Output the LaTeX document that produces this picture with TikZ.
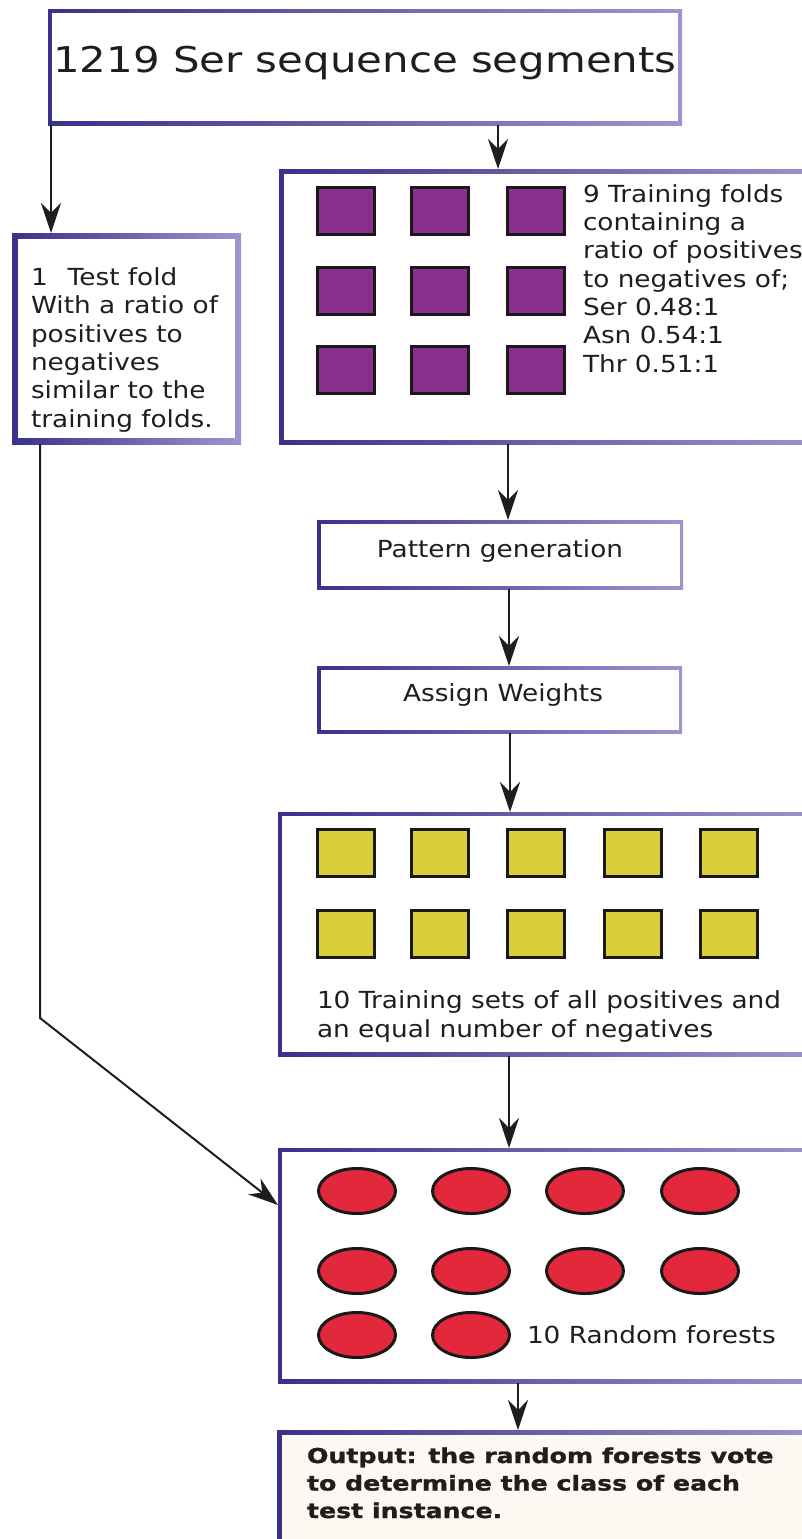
\documentclass[tikz,border=0pt]{standalone}
\usepackage{fontspec}
\setmainfont{DejaVu Sans}
\newfontfamily\dvw[FakeStretch=1.12]{DejaVu Sans}
\newfontfamily\dvt[FakeStretch=1.18]{DejaVu Sans}
\newfontfamily\dvb[FakeStretch=1.23,FakeBold=1.2]{DejaVu Sans Bold}
\usetikzlibrary{arrows.meta,shapes.geometric}
\definecolor{bdark}{RGB}{58,50,138}
\definecolor{blight}{RGB}{158,148,206}
\definecolor{cream}{RGB}{253,248,242}
\definecolor{purp}{RGB}{138,47,140}
\definecolor{yel}{RGB}{217,206,58}
\definecolor{redf}{RGB}{226,40,58}
\definecolor{ink}{RGB}{30,30,30}
\tikzset{
  gbox/.style={rectangle, inner sep=0pt, outer sep=0pt, left color=bdark, right color=blight,
    path picture={\fill[white] ([xshift=#1,yshift=-#1]path picture bounding box.north west) rectangle ([xshift=-#1,yshift=#1]path picture bounding box.south east);}},
  gboxc/.style={rectangle, inner sep=0pt, outer sep=0pt, left color=bdark, right color=blight,
    path picture={\fill[cream] ([xshift=#1,yshift=-#1]path picture bounding box.north west) rectangle ([xshift=-#1,yshift=#1]path picture bounding box.south east);}},
  txt/.style={inner sep=0pt, outer sep=0pt, text=ink, font=\dvw\fontsize{23.5}{28.3}\selectfont, align=left},
  psq/.style={rectangle, draw=black!90, line width=3pt, fill=purp, minimum width=57pt, minimum height=47pt, inner sep=0pt},
  ysq/.style={rectangle, draw=black!90, line width=3pt, fill=yel, minimum width=57pt, minimum height=47pt, inner sep=0pt},
  rel/.style={ellipse, draw=black!90, line width=3pt, fill=redf, minimum width=77pt, minimum height=45pt, inner sep=0pt},
  arr/.style={draw=ink, line width=2pt, -{Stealth[length=30pt,width=20pt,inset=10pt]}}
}
\begin{document}
\begin{tikzpicture}[x=1pt,y=-1pt]
\useasboundingbox (0,0) rectangle (802,1539);
\fill[white] (0,0) rectangle (802,1539);
\clip (0,0) rectangle (802,1539);

% boxes
\node[gbox=4pt, minimum width=634pt, minimum height=116pt] (top) at (365,67) {};
\node[gbox=6pt, minimum width=229pt, minimum height=211pt] (test) at (126.5,338.5) {};
\node[gbox=4.5pt, minimum width=551pt, minimum height=275pt] (train) at (554.5,306.5) {};
\node[gbox=3.5pt, minimum width=366pt, minimum height=69pt] (pat) at (500,554.5) {};
\node[gbox=3.5pt, minimum width=365pt, minimum height=67pt] (asg) at (499.5,699.5) {};
\node[gbox=4pt, minimum width=552pt, minimum height=244pt] (yset) at (554,934) {};
\node[gbox=4pt, minimum width=552pt, minimum height=235pt] (forest) at (554,1265.5) {};
\node[gboxc=5pt, minimum width=553pt, minimum height=130pt] (out) at (553.5,1495) {};

% texts (multi-line nodes: base anchor is the last line's baseline)
\node[txt, font=\dvt\fontsize{35.5}{40}\selectfont, anchor=base] (toptxt) at (365,72) {1219 Ser sequence segments};
\node[txt, anchor=base west] (testtxt) at (31,427) {1\hspace{20pt}Test fold\\With a ratio of\\positives to\\negatives\\similar to the\\training folds.};
\node[txt, anchor=base west] (traintxt) at (583,372) {9 Training folds\\containing a\\ratio of positives\\to negatives of;\\Ser 0.48:1\\Asn 0.54:1\\Thr 0.51:1};
\node[txt, anchor=base] (pattxt) at (500,557) {Pattern generation};
\node[txt, anchor=base] (asgtxt) at (503,701) {Assign Weights};
\node[txt, anchor=base west] (ytxt) at (317,1037) {10 Training sets of all positives and\\an equal number of negatives};
\node[txt, anchor=base west] (ftxt) at (527,1343) {10 Random forests};
\node[txt, font=\dvb\fontsize{20.5}{27.5}\selectfont, anchor=base west] (otxt) at (307,1518) {Output: the random forests vote\\to determine the class of each\\test instance.};

% purple squares
\foreach \i/\x in {1/346,2/440,3/536}{
  \foreach \j/\y in {1/211,2/291,3/370}{
    \node[psq] (p\i\j) at (\x,\y) {};
  }
}
% yellow squares
\foreach \i/\x in {1/346,2/440,3/536,4/633,5/729}{
  \foreach \j/\y in {1/853,2/933.5}{
    \node[ysq] (y\i\j) at (\x,\y) {};
  }
}
% red ellipses
\foreach \i/\x in {1/357,2/471,3/585,4/700}{
  \node[rel] (r\i1) at (\x,1191) {};
  \node[rel] (r\i2) at (\x,1271) {};
}
\node[rel] (r13) at (357,1335) {};
\node[rel] (r23) at (471,1335) {};

% connectors
\draw[arr] (top.south -| 498,0) -- (train.north -| 498,0);
\draw[arr] (top.south -| 51,0) -- (test.north -| 51,0);
\draw[arr] (train.south -| 508,0) -- (pat.north -| 508,0);
\draw[arr] (pat.south -| 509,0) -- (asg.north -| 509,0);
\draw[arr] (asg.south -| 510,0) -- (yset.north -| 510,0);
\draw[arr] (yset.south -| 509,0) -- (forest.north -| 509,0);
\draw[arr] (forest.south -| 518,0) -- (out.north -| 518,0);
\coordinate (bend) at (40,1018);
\draw[arr] (test.south -| 40,0) -- (bend) -- (forest.west |- 0,1205);
\end{tikzpicture}
\end{document}
